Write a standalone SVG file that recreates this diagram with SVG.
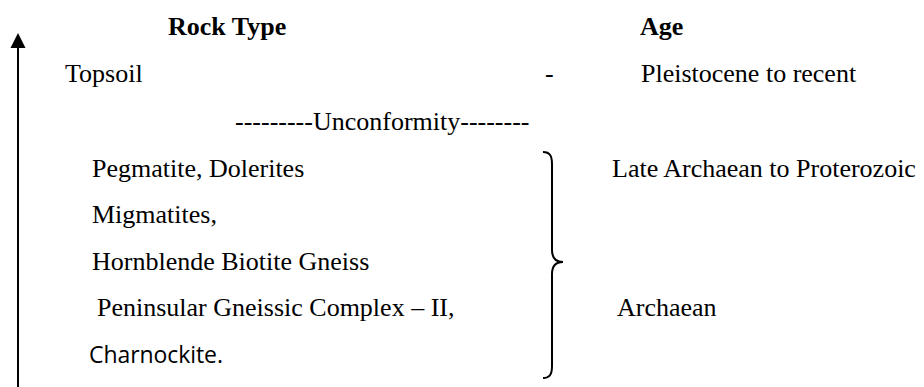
<svg xmlns="http://www.w3.org/2000/svg" width="924" height="387" viewBox="0 0 924 387">
<defs>
<style>
.t{font-family:"Liberation Serif","Times New Roman",serif;font-size:26px;fill:#000}
.b{font-weight:bold}
.s{font-family:"Open Sans","Liberation Sans",sans-serif;font-size:23px;fill:#000}
.ln{fill:none;stroke:#000;stroke-width:2}
</style>
<marker id="ah" markerWidth="16" markerHeight="16" refX="7.5" refY="15" orient="auto" markerUnits="userSpaceOnUse" viewBox="0 0 16 16">
<path d="M7.5,0 L15,15 L0,15 Z" fill="#000"/>
</marker>
</defs>
<rect width="924" height="387" fill="#fff"/>
<g id="connectors">
<line class="ln" x1="18" y1="387" x2="18" y2="48"/>
<path d="M18,33 L25.5,48 L10.5,48 Z" fill="#000"/>
</g>
<g id="header">
<text class="t b" x="168" y="35">Rock Type</text>
<text class="t b" x="640" y="35">Age</text>
</g>
<g id="topsoil">
<text class="t" x="65" y="82">Topsoil</text>
<text class="t" x="545" y="82">-</text>
<text class="t" x="641" y="82">Pleistocene to recent</text>
</g>
<g id="unconformity">
<text class="t" x="235" y="130">---------Unconformity--------</text>
</g>
<g id="rocks">
<text class="t" x="92" y="177">Pegmatite, Dolerites</text>
<text class="t" x="92" y="223">Migmatites,</text>
<text class="t" x="92" y="270">Hornblende Biotite Gneiss</text>
<text class="t" x="97" y="316">Peninsular Gneissic Complex – II,</text>
<text class="s" x="89" y="363" textLength="134">Charnockite.</text>
</g>
<g id="brace">
<path class="ln" stroke-width="1.8" d="M543,152 C550,152 552,156 552,164 L552,250 C552,258 556,262 563,262 C556,262 552,266 552,274 L552,366 C552,374 550,378 543,378"/>
</g>
<g id="ages">
<text class="t" x="612" y="177">Late Archaean to Proterozoic</text>
<text class="t" x="617" y="316">Archaean</text>
</g>
</svg>
